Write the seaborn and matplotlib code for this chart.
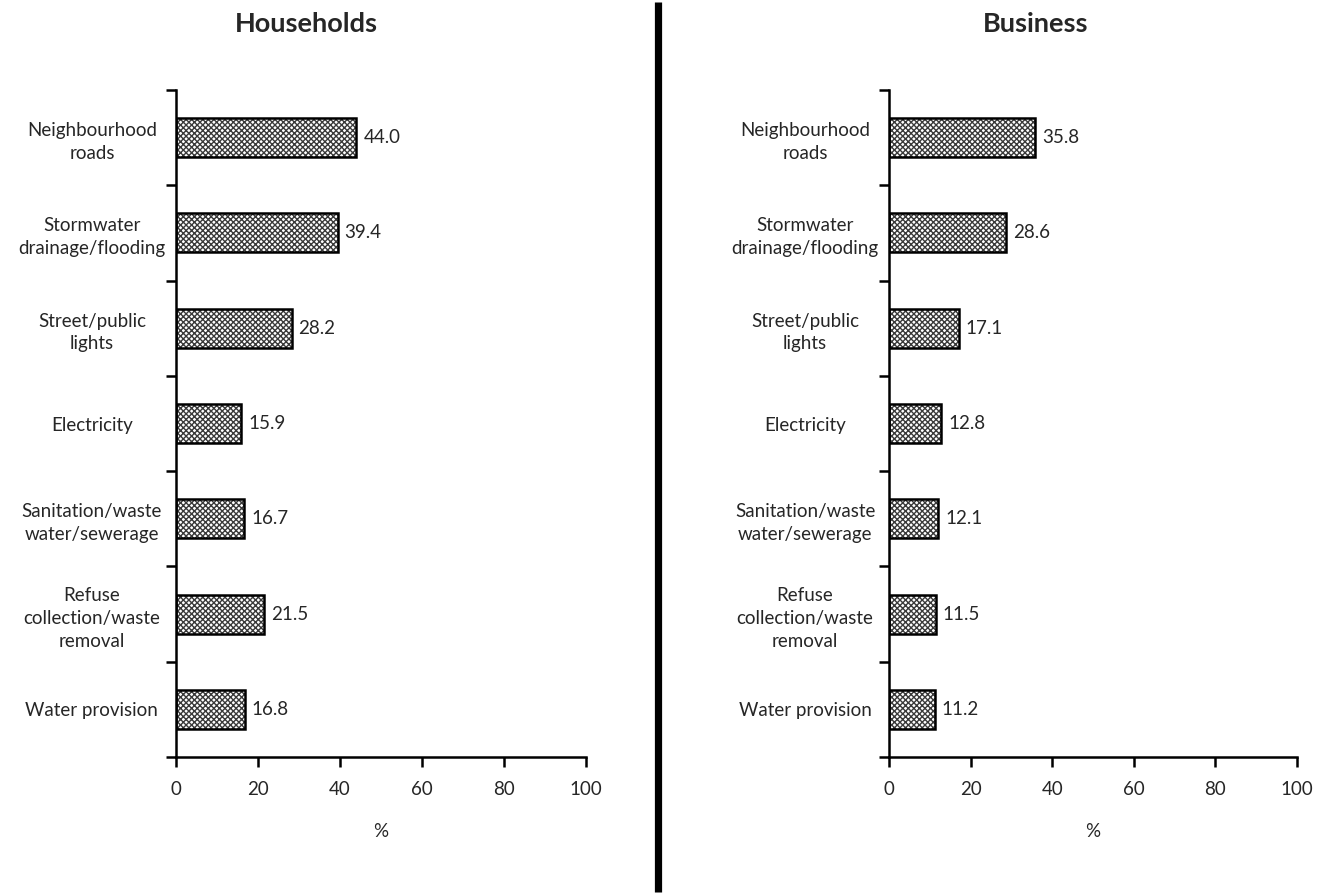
import numpy as np
import pandas as pd
import matplotlib
matplotlib.use('Agg')
import matplotlib.pyplot as plt
from matplotlib.lines import Line2D
import seaborn as sns

# data
categories = ['Neighbourhood\nroads', 'Stormwater\ndrainage/flooding', 'Street/public\nlights',
              'Electricity', 'Sanitation/waste\nwater/sewerage', 'Refuse\ncollection/waste\nremoval',
              'Water provision']
households = [44.0, 39.4, 28.2, 15.9, 16.7, 21.5, 16.8]
business = [35.8, 28.6, 17.1, 12.8, 12.1, 11.5, 11.2]
panel_titles = ['Households', 'Business']
x_ticks = [0, 20, 40, 60, 80, 100]

sns.set_style('white')
plt.rcParams['font.family'] = ['Lato', 'DejaVu Sans']
plt.rcParams['hatch.linewidth'] = 1.0

fig = plt.figure(figsize=(13.22, 8.94), dpi=100)
ax1 = fig.add_axes([0.1331, 0.1532, 0.3102, 0.7461])
ax2 = fig.add_axes([0.6725, 0.1532, 0.3086, 0.7461])

for ax, vals, title, tx in [(ax1, households, panel_titles[0], 0.2315),
                            (ax2, business, panel_titles[1], 0.783)]:
    df = pd.DataFrame({'cat': categories, 'val': vals})
    # hatched fill
    sns.barplot(data=df, y='cat', x='val', orient='h', ax=ax, width=0.41,
                color='white', edgecolor='#3a3a3a', linewidth=0, hatch='xxxxxx')
    # black outline on top
    sns.barplot(data=df, y='cat', x='val', orient='h', ax=ax, width=0.41,
                fill=False, edgecolor='black', linewidth=1.8)
    for i, v in enumerate(vals):
        ax.text(v + 1.7, i, f'{v:.1f}', va='center', ha='left', fontsize=13.5)
    ax.set_xlim(0, 100)
    ax.set_ylim(len(categories) - 0.5, -0.5)
    ax.set_xticks(x_ticks)
    ax.set_xticklabels([str(t) for t in x_ticks], fontsize=13.5)
    ax.set_yticks(range(len(categories)))
    ax.set_yticklabels(categories, fontsize=13.5, ha='center', linespacing=1.4)
    # pad is in points: ~84 px from the axis to the label centre
    ax.tick_params(axis='y', which='major', left=False, length=0, pad=60.5)
    ax.set_yticks(np.arange(-0.5, len(categories), 1), minor=True)
    ax.tick_params(axis='y', which='minor', left=True, length=7, width=1.8,
                   direction='out', color='black')
    ax.tick_params(axis='x', bottom=True, length=7, width=1.8, direction='out',
                   color='black', pad=10)
    ax.set_xlabel('%', fontsize=13.5, labelpad=18)
    ax.set_ylabel('')
    sns.despine(ax=ax)
    for s in ['left', 'bottom']:
        ax.spines[s].set_linewidth(1.8)
        ax.spines[s].set_color('black')
    fig.text(tx, 0.973, title, ha='center', va='center', fontsize=19.5, fontweight='bold')

# divider between the two panels
fig.add_artist(Line2D([0.4981, 0.4981], [0.002, 0.998], color='black', linewidth=5.2,
                      solid_capstyle='butt', transform=fig.transFigure))

fig.savefig('out.png', dpi=100)
